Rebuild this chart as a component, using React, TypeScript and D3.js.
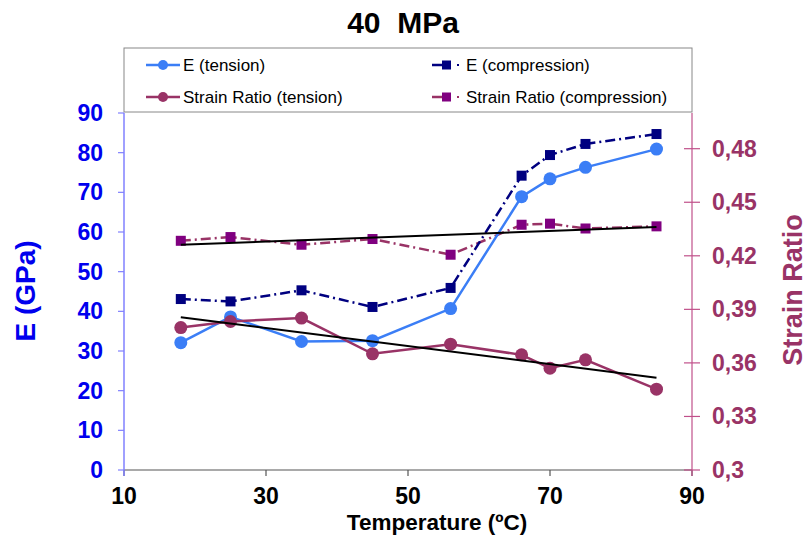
import React from 'react';
import * as d3 from 'd3';

const temps = [18, 25, 35, 45, 56, 66, 70, 75, 85];
const eTension = [32.1, 38.6, 32.4, 32.6, 40.7, 68.9, 73.4, 76.3, 80.9];
const eCompression = [43.1, 42.5, 45.3, 41.1, 45.9, 74.2, 79.4, 82.2, 84.7];
const srTension = [0.3798, 0.3832, 0.3851, 0.3651, 0.3705, 0.3645, 0.357, 0.3617, 0.3453];
const srCompression = [0.4284, 0.4305, 0.4262, 0.4294, 0.4206, 0.4374, 0.438, 0.4353, 0.4365];

const xTicks = [10, 30, 50, 70, 90];
const eTicks = [0, 10, 20, 30, 40, 50, 60, 70, 80, 90];
const srTicks = [0.3, 0.33, 0.36, 0.39, 0.42, 0.45, 0.48];

const FONT = '"Liberation Sans", Arial, sans-serif';
const BLUE = '#3b7ef6';
const NAVY = '#000080';
const WINE = '#993366';
const PURPLE = '#800080';
const AXIS_BLUE = '#0000ee';

// least squares trend line, like the spreadsheet one
const linFit = (xs: number[], ys: number[]) => {
  const mx = d3.mean(xs)!;
  const my = d3.mean(ys)!;
  const sxy = d3.sum(xs, (x, i) => (x - mx) * (ys[i] - my));
  const sxx = d3.sum(xs, x => (x - mx) * (x - mx));
  const b = sxy / sxx;
  return (x: number) => my + b * (x - mx);
};

const App = () => {
  const left = 124, right = 692, top = 113, bottom = 470;

  const x = d3.scaleLinear().domain([10, 90]).range([left, right]);
  const yE = d3.scaleLinear().domain([0, 90]).range([bottom, top]);
  const yS = d3.scaleLinear().domain([0.3, 0.5]).range([bottom, top]);

  const lineE = d3.line<number>().x((_, i) => x(temps[i])).y(d => yE(d));
  const lineS = d3.line<number>().x((_, i) => x(temps[i])).y(d => yS(d));

  const fitT = linFit(temps, srTension);
  const fitC = linFit(temps, srCompression);
  const x0 = temps[0], x1 = temps[temps.length - 1];

  const dashDot = '10,4,2,4';

  return (
    <svg width={809} height={539} style={{ position: 'absolute', left: 0, top: 0, background: '#fff' }}
      fontFamily={FONT}>
      <text x={403} y={33} textAnchor="middle" fontSize={30} fontWeight="bold" style={{ whiteSpace: 'pre' }}>
        40  MPa
      </text>

      {/* legend */}
      <rect x={left} y={48} width={right - left} height={64} fill="#fff" stroke="#888" strokeWidth={1} />
      <g fontSize={17}>
        <line x1={146} x2={180} y1={65} y2={65} stroke={BLUE} strokeWidth={2.5} />
        <circle cx={163} cy={65} r={5} fill={BLUE} />
        <text x={183} y={71}>E (tension)</text>

        <line x1={432} x2={450} y1={65} y2={65} stroke={NAVY} strokeWidth={2.5} />
        <rect x={442} y={60.5} width={9} height={9} fill={NAVY} />
        <rect x={457} y={64} width={2} height={2} fill={NAVY} />
        <text x={466} y={71}>E (compression)</text>

        <line x1={146} x2={180} y1={97} y2={97} stroke={WINE} strokeWidth={2.5} />
        <circle cx={163} cy={97} r={5} fill={WINE} />
        <text x={183} y={103}>Strain Ratio (tension)</text>

        <line x1={432} x2={450} y1={97} y2={97} stroke={WINE} strokeWidth={2.5} />
        <rect x={442} y={92.5} width={9} height={9} fill={PURPLE} />
        <rect x={457} y={96} width={2} height={2} fill={WINE} />
        <text x={466} y={103}>Strain Ratio (compression)</text>
      </g>

      {/* axes */}
      <line x1={left} x2={right} y1={bottom} y2={bottom} stroke="#555" strokeWidth={1.2} />
      {xTicks.map(t => (
        <g key={t}>
          <line x1={x(t)} x2={x(t)} y1={bottom} y2={bottom + 6} stroke="#555" strokeWidth={1.2} />
          <text x={x(t)} y={504} textAnchor="middle" fontSize={23} fontWeight="bold">{t}</text>
        </g>
      ))}
      <text x={437} y={530} textAnchor="middle" fontSize={22.5} fontWeight="bold">Temperature (ºC)</text>

      <line x1={left} x2={left} y1={top} y2={bottom + 6} stroke="#8080ff" strokeWidth={1.5} />
      {eTicks.map(t => (
        <g key={t}>
          <line x1={left - 6} x2={left} y1={yE(t)} y2={yE(t)} stroke="#8080ff" strokeWidth={1.2} />
          <text x={103} y={yE(t) + 8} textAnchor="end" fontSize={23} fontWeight="bold" fill={AXIS_BLUE}>{t}</text>
        </g>
      ))}
      <text transform={`translate(35,291) rotate(-90)`} textAnchor="middle" fontSize={28}
        fontWeight="bold" fill={AXIS_BLUE}>E (GPa)</text>

      <line x1={right} x2={right} y1={top} y2={bottom + 6} stroke="#c0508a" strokeWidth={1.2} />
      {srTicks.map(t => (
        <g key={t}>
          <line x1={right - 8} x2={right + 8} y1={yS(t)} y2={yS(t)} stroke="#c0508a" strokeWidth={1.2} />
          <text x={712} y={yS(t) + 8} fontSize={23} fontWeight="bold" fill={WINE}>
            {String(+t.toFixed(2)).replace('.', ',')}
          </text>
        </g>
      ))}
      <text transform={`translate(802,290) rotate(-90)`} textAnchor="middle" fontSize={27}
        fontWeight="bold" fill={WINE}>Strain Ratio</text>

      {/* strain ratio compression */}
      <path d={lineS(srCompression)!} fill="none" stroke={WINE} strokeWidth={2.5} strokeDasharray={dashDot} />
      {srCompression.map((v, i) => (
        <rect key={i} x={x(temps[i]) - 5} y={yS(v) - 5} width={10} height={10} fill={PURPLE} />
      ))}

      {/* E compression */}
      <path d={lineE(eCompression)!} fill="none" stroke={NAVY} strokeWidth={2.5} strokeDasharray={dashDot} />
      {eCompression.map((v, i) => (
        <rect key={i} x={x(temps[i]) - 5} y={yE(v) - 5} width={10} height={10} fill={NAVY} />
      ))}

      {/* E tension */}
      <path d={lineE(eTension)!} fill="none" stroke={BLUE} strokeWidth={2.5} />
      {eTension.map((v, i) => (
        <circle key={i} cx={x(temps[i])} cy={yE(v)} r={6.5} fill={BLUE} />
      ))}

      {/* strain ratio tension */}
      <path d={lineS(srTension)!} fill="none" stroke={WINE} strokeWidth={2.5} />
      {srTension.map((v, i) => (
        <circle key={i} cx={x(temps[i])} cy={yS(v)} r={6.5} fill={WINE} />
      ))}

      {/* trend lines */}
      <line x1={x(x0)} x2={x(x1)} y1={yS(fitC(x0))} y2={yS(fitC(x1))} stroke="#000" strokeWidth={2} />
      <line x1={x(x0)} x2={x(x1)} y1={yS(fitT(x0))} y2={yS(fitT(x1))} stroke="#000" strokeWidth={2} />
    </svg>
  );
};

export default App;
